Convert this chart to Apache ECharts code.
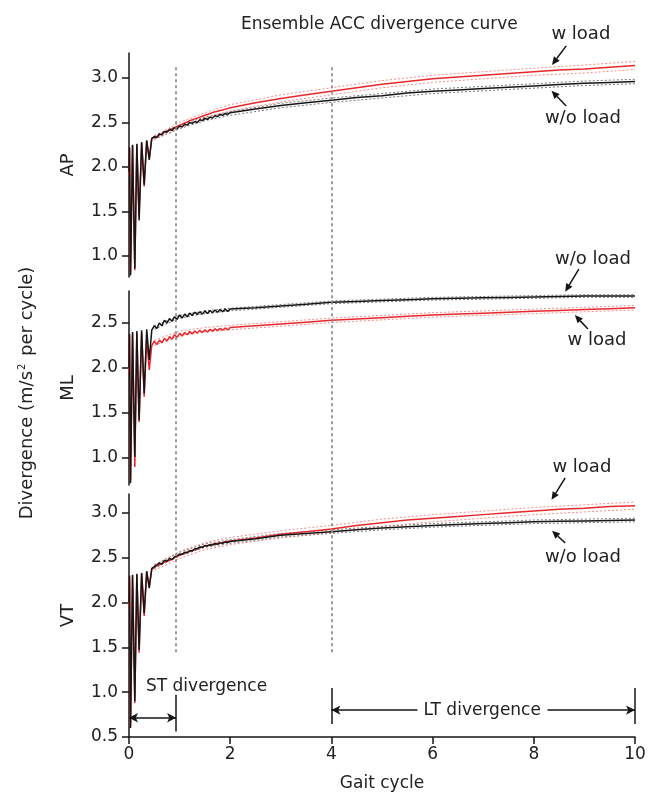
<!DOCTYPE html>
<html>
<head>
<meta charset="utf-8">
<script src="https://cdn.jsdelivr.net/npm/echarts@6/dist/echarts.min.js"></script>
<style>
  html, body { margin: 0; padding: 0; background: #fff; }
  #chart { width: 658px; height: 805px; }
</style>
</head>
<body>
<div id="chart"></div>
<script>
// ---------------- DATA ----------------
// gait-cycle sample positions (shared by all mean curves)
const cycleDip = [0, 0.01, 0.03, 0.07, 0.115, 0.155, 0.2, 0.25, 0.3, 0.35, 0.4, 0.45];
const cycleRipple = [0.5, 0.55, 0.6, 0.65, 0.7, 0.75, 0.8, 0.85, 0.9, 0.95, 1, 1.05, 1.1, 1.15, 1.2, 1.25, 1.3, 1.35, 1.4, 1.45, 1.5, 1.55, 1.6, 1.65, 1.7, 1.75, 1.8, 1.85, 1.9, 1.95, 2];
const cycleLate = [2.5, 3, 3.5, 4, 4.5, 5, 5.5, 6, 6.5, 7, 7.5, 8, 8.5, 9, 9.5, 10];

// AP
const apWithout = [1.95, 2.22, 0.78, 2.25, 0.86, 2.26, 1.40, 2.28, 1.80, 2.30, 2.08, 2.32,
  2.34, 2.33, 2.37, 2.36, 2.40, 2.39, 2.42, 2.41, 2.44, 2.43, 2.46, 2.45, 2.48, 2.47, 2.50, 2.49, 2.51, 2.50, 2.53, 2.52, 2.545, 2.535, 2.56, 2.55, 2.575, 2.565, 2.59, 2.58, 2.60, 2.59, 2.61,
  2.65, 2.69, 2.72, 2.75, 2.78, 2.80, 2.83, 2.85, 2.865, 2.88, 2.895, 2.91, 2.925, 2.94, 2.95, 2.96];
const apWith = [1.90, 2.20, 0.80, 2.24, 0.84, 2.25, 1.45, 2.27, 1.78, 2.29, 2.10, 2.32,
  2.33, 2.34, 2.36, 2.37, 2.39, 2.40, 2.42, 2.43, 2.445, 2.455, 2.47, 2.48, 2.495, 2.505, 2.52, 2.53, 2.54, 2.55, 2.56, 2.57, 2.58, 2.59, 2.60, 2.61, 2.62, 2.625, 2.635, 2.64, 2.65, 2.655, 2.665,
  2.72, 2.77, 2.81, 2.85, 2.89, 2.93, 2.96, 2.99, 3.01, 3.03, 3.05, 3.07, 3.09, 3.10, 3.12, 3.14];
// ML
const mlWithout = [2.00, 2.38, 0.72, 2.40, 1.01, 2.41, 1.42, 2.42, 1.72, 2.43, 2.09, 2.42,
  2.47, 2.44, 2.50, 2.47, 2.53, 2.50, 2.55, 2.52, 2.57, 2.54, 2.59, 2.555, 2.60, 2.57, 2.61, 2.585, 2.62, 2.595, 2.625, 2.60, 2.635, 2.605, 2.64, 2.615, 2.645, 2.62, 2.65, 2.625, 2.655, 2.63, 2.655,
  2.67, 2.69, 2.71, 2.73, 2.74, 2.75, 2.76, 2.77, 2.775, 2.78, 2.785, 2.79, 2.795, 2.80, 2.80, 2.80];
const mlWith = [1.95, 2.36, 0.75, 2.38, 0.90, 2.39, 1.40, 2.40, 1.68, 2.32, 1.98, 2.25,
  2.30, 2.26, 2.31, 2.28, 2.33, 2.30, 2.35, 2.32, 2.37, 2.34, 2.385, 2.355, 2.395, 2.37, 2.405, 2.38, 2.41, 2.39, 2.42, 2.395, 2.425, 2.40, 2.43, 2.41, 2.435, 2.415, 2.44, 2.42, 2.445, 2.425, 2.45,
  2.47, 2.49, 2.51, 2.53, 2.545, 2.56, 2.575, 2.59, 2.60, 2.61, 2.62, 2.63, 2.64, 2.65, 2.66, 2.67];
// VT
const vtWithout = [2.00, 2.30, 0.60, 2.31, 0.90, 2.32, 1.47, 2.33, 1.88, 2.35, 2.16, 2.38,
  2.40, 2.42, 2.44, 2.43, 2.47, 2.46, 2.49, 2.48, 2.51, 2.52, 2.54, 2.535, 2.56, 2.555, 2.58, 2.575, 2.60, 2.60, 2.62, 2.615, 2.635, 2.63, 2.645, 2.64, 2.655, 2.65, 2.665, 2.66, 2.675, 2.67, 2.68,
  2.71, 2.75, 2.77, 2.79, 2.81, 2.83, 2.845, 2.86, 2.87, 2.88, 2.89, 2.90, 2.905, 2.91, 2.915, 2.92];
const vtWith = [1.95, 2.28, 0.62, 2.30, 0.88, 2.31, 1.44, 2.32, 1.85, 2.34, 2.18, 2.37,
  2.39, 2.41, 2.42, 2.43, 2.45, 2.46, 2.47, 2.48, 2.50, 2.51, 2.53, 2.54, 2.55, 2.56, 2.57, 2.58, 2.59, 2.60, 2.61, 2.62, 2.63, 2.635, 2.64, 2.65, 2.655, 2.66, 2.665, 2.67, 2.675, 2.68, 2.685,
  2.72, 2.76, 2.79, 2.82, 2.86, 2.89, 2.92, 2.94, 2.96, 2.98, 3.00, 3.02, 3.04, 3.05, 3.07, 3.08];

// confidence bounds (dashed)
const bandCycles = [0.5, 1, 1.5, 2, 3, 4, 5, 6, 7, 8, 9, 10];
const apWithoutHi = [2.35, 2.47, 2.56, 2.62, 2.715, 2.775, 2.825, 2.875, 2.905, 2.935, 2.965, 2.985];
const apWithoutLo = [2.31, 2.43, 2.52, 2.58, 2.665, 2.725, 2.775, 2.825, 2.855, 2.885, 2.915, 2.935];
const apWithHi = [2.35, 2.50, 2.61, 2.70, 2.81, 2.89, 2.97, 3.03, 3.07, 3.11, 3.145, 3.185];
const apWithLo = [2.31, 2.44, 2.55, 2.63, 2.73, 2.81, 2.89, 2.95, 2.99, 3.03, 3.055, 3.095];
const mlWithoutHi = [2.47, 2.585, 2.635, 2.665, 2.705, 2.745, 2.765, 2.785, 2.795, 2.805, 2.815, 2.815];
const mlWithoutLo = [2.43, 2.555, 2.605, 2.635, 2.675, 2.715, 2.735, 2.755, 2.765, 2.775, 2.785, 2.785];
const mlWithHi = [2.31, 2.41, 2.45, 2.475, 2.515, 2.555, 2.585, 2.615, 2.635, 2.655, 2.675, 2.695];
const mlWithLo = [2.25, 2.36, 2.40, 2.425, 2.465, 2.505, 2.535, 2.565, 2.585, 2.605, 2.625, 2.645];
const vtWithoutHi = [2.42, 2.56, 2.655, 2.70, 2.77, 2.81, 2.85, 2.88, 2.90, 2.92, 2.93, 2.94];
const vtWithoutLo = [2.38, 2.52, 2.615, 2.66, 2.73, 2.77, 2.81, 2.84, 2.86, 2.88, 2.89, 2.90];
const vtWithHi = [2.42, 2.57, 2.67, 2.725, 2.80, 2.86, 2.93, 2.98, 3.02, 3.06, 3.09, 3.12];
const vtWithLo = [2.36, 2.49, 2.59, 2.645, 2.72, 2.78, 2.85, 2.90, 2.94, 2.98, 3.01, 3.04];

// axes ticks
const xTicks = [0, 2, 4, 6, 8, 10];
const apTicks = [1.0, 1.5, 2.0, 2.5, 3.0];
const mlTicks = [1.0, 1.5, 2.0, 2.5];
const vtTicks = [0.5, 1.0, 1.5, 2.0, 2.5, 3.0];
const panelNames = ['AP', 'ML', 'VT'];

// phase boundaries (gait cycles)
const stRange = [0, 0.93];
const ltRange = [4, 10];
const dividers = [0.93, 4];

// ---------------- LAYOUT / STYLE ----------------
const FONT = '"DejaVu Sans", sans-serif';
const RED = '#e8272c', BLACK = '#161616';
const panels = [
  { top: 53, height: 224, min: 0.764, max: 3.28, ticks: apTicks },
  { top: 291, height: 194, min: 0.70, max: 2.856, ticks: mlTicks },
  { top: 494, height: 243, min: 0.50, max: 3.21, ticks: vtTicks }
];
// annotation anchors in data units of each panel
const notes = [
  { panel: 0, text: 'w load',   tip: [8.36, 3.146], tail: [8.64, 3.36],  label: [8.93, 3.494] },
  { panel: 0, text: 'w/o load', tip: [8.35, 2.857], tail: [8.64, 2.685], label: [8.97, 2.55] },
  { panel: 1, text: 'w/o load', tip: [8.62, 2.848], tail: [8.89, 3.10],  label: [9.17, 3.21] },
  { panel: 1, text: 'w load',   tip: [8.81, 2.589], tail: [9.07, 2.433], label: [9.25, 2.31] },
  { panel: 2, text: 'w load',   tip: [8.35, 3.145], tail: [8.62, 3.39],  label: [8.95, 3.51] },
  { panel: 2, text: 'w/o load', tip: [8.36, 2.80],  tail: [8.62, 2.665], label: [8.97, 2.50] }
];
const stArrowY = 0.715, stBar = [0.56, 0.97], stLabel = [0.336, 1.06];
const ltArrowY = 0.80, ltBar = [0.645, 1.047], ltLabel = [6.98, 0.80], ltGap = [5.7, 8.27];
const dividerSpan = [0.124, 0.979];

function pairs(xs, ys) { return xs.map((x, i) => [x, ys[i]]); }
const cycles = cycleDip.concat(cycleRipple, cycleLate);

const meanData = [[apWithout, apWith], [mlWithout, mlWith], [vtWithout, vtWith]];
const bandData = [
  [apWithoutHi, apWithoutLo, apWithHi, apWithLo],
  [mlWithoutHi, mlWithoutLo, mlWithHi, mlWithLo],
  [vtWithoutHi, vtWithoutLo, vtWithHi, vtWithLo]
];

const grids = panels.map(p => ({ left: 129, right: 23, top: p.top, height: p.height, containLabel: false }));
grids.push({ left: 129, right: 23, top: 53, bottom: 68, containLabel: false });

const xAxes = panels.map((p, i) => ({
  type: 'value', gridIndex: i, min: 0, max: 10, interval: 2,
  show: i === 2,
  name: i === 2 ? 'Gait cycle' : '',
  nameLocation: 'middle', nameGap: 38,
  nameTextStyle: { fontFamily: FONT, fontSize: 17, color: '#222' },
  axisLine: { show: true, lineStyle: { color: BLACK, width: 1.5 } },
  axisTick: { show: true, length: 7, lineStyle: { color: BLACK, width: 1.5 } },
  axisLabel: { show: true, margin: 9, fontFamily: FONT, fontSize: 17, color: '#222',
    customValues: xTicks, formatter: v => String(v) },
  splitLine: { show: false }
}));
xAxes.push({ type: 'value', gridIndex: 3, min: 0, max: 10, show: false });

const yAxes = panels.map((p, i) => ({
  type: 'value', gridIndex: i, min: p.min, max: p.max,
  name: panelNames[i], nameLocation: 'middle', nameGap: 52, nameRotate: 90,
  nameTextStyle: { fontFamily: FONT, fontSize: 18, color: '#222' },
  axisLine: { show: true, onZero: false, lineStyle: { color: BLACK, width: 1.5 } },
  axisTick: { show: true, length: 7, customValues: p.ticks, lineStyle: { color: BLACK, width: 1.5 } },
  axisLabel: { show: true, margin: 11, fontFamily: FONT, fontSize: 17, color: '#222',
    customValues: p.ticks, formatter: v => v.toFixed(1) },
  splitLine: { show: false }
}));
yAxes.push({ type: 'value', gridIndex: 3, min: 0, max: 1, show: false });

const series = [];
panels.forEach((p, i) => {
  const bandStyles = [
    { color: '#555', width: 0.8 }, { color: '#555', width: 0.8 },
    { color: '#f07070', width: 0.8 }, { color: '#f07070', width: 0.8 }
  ];
  bandData[i].forEach((b, k) => {
    series.push({
      type: 'line', xAxisIndex: i, yAxisIndex: i, data: pairs(bandCycles, b),
      showSymbol: false, symbol: 'none', silent: true, z: 1,
      lineStyle: { color: bandStyles[k].color, width: bandStyles[k].width, type: [2, 2] }
    });
  });
  series.push({
    type: 'line', xAxisIndex: i, yAxisIndex: i, data: pairs(cycles, meanData[i][1]),
    showSymbol: false, symbol: 'none', z: 2,
    lineStyle: { color: RED, width: 1.5 }
  });
  series.push({
    type: 'line', xAxisIndex: i, yAxisIndex: i, data: pairs(cycles, meanData[i][0]),
    showSymbol: false, symbol: 'none', z: 3,
    lineStyle: { color: BLACK, width: 1.5 }
  });
  if (i === 2) {
    const mlData = [];
    mlData.push([{ coord: [dividers[0], stBar[0]], symbol: 'none' }, { coord: [dividers[0], stBar[1]], symbol: 'none' }]);
    mlData.push([{ coord: [stRange[0], stArrowY], symbol: 'arrow' }, { coord: [stRange[1], stArrowY], symbol: 'arrow' }]);
    mlData.push([{ coord: [ltRange[0], ltBar[0]], symbol: 'none' }, { coord: [ltRange[0], ltBar[1]], symbol: 'none' }]);
    mlData.push([{ coord: [ltRange[1], ltBar[0]], symbol: 'none' }, { coord: [ltRange[1], ltBar[1]], symbol: 'none' }]);
    mlData.push([{ coord: [ltRange[0], ltArrowY], symbol: 'arrow' }, { coord: [ltGap[0], ltArrowY], symbol: 'none' }]);
    mlData.push([{ coord: [ltGap[1], ltArrowY], symbol: 'none' }, { coord: [ltRange[1], ltArrowY], symbol: 'arrow' }]);
    series.push({
      type: 'line', xAxisIndex: i, yAxisIndex: i, data: [], z: 5, silent: true, clip: false,
      markLine: {
        silent: true, animation: false, symbolSize: [7, 9],
        label: { show: false },
        lineStyle: { color: BLACK, width: 1.5, type: 'solid' },
        emphasis: { disabled: true },
        data: mlData
      }
    });
  }
});
// dotted dividers across all panels
series.push({
  type: 'line', xAxisIndex: 3, yAxisIndex: 3, data: [], z: 0, silent: true, clip: false,
  markLine: {
    silent: true, animation: false, symbol: 'none',
    label: { show: false },
    lineStyle: { color: '#8a8a8a', width: 1.7, type: [3, 3] },
    data: dividers.map(x => [{ coord: [x, dividerSpan[0]] }, { coord: [x, dividerSpan[1]] }])
  }
});

const chart = echarts.init(document.getElementById('chart'), null, { renderer: 'canvas' });
chart.setOption({
  animation: false,
  backgroundColor: '#fff',
  title: {
    text: 'Ensemble ACC divergence curve', left: 236, top: 11,
    textStyle: { fontFamily: FONT, fontSize: 17, fontWeight: 'normal', color: '#222' }
  },
  grid: grids, xAxis: xAxes, yAxis: yAxes, series: series
});

// annotation texts and arrows, positioned through each panel's own scales
const gfx = [];
notes.forEach(n => {
  const pt = chart.convertToPixel({ gridIndex: n.panel }, n.label);
  gfx.push({ type: 'text', x: pt[0], y: pt[1], z: 10,
    style: { text: n.text, fontFamily: FONT, fontSize: 18, fill: '#222', align: 'center', verticalAlign: 'middle' } });
  const T = chart.convertToPixel({ gridIndex: n.panel }, n.tip);
  const S = chart.convertToPixel({ gridIndex: n.panel }, n.tail);
  const dx = T[0] - S[0], dy = T[1] - S[1];
  const len = Math.sqrt(dx * dx + dy * dy);
  const ux = dx / len, uy = dy / len;
  const headL = 8, headW = 3.6;
  const B = [T[0] - ux * headL, T[1] - uy * headL];
  gfx.push({ type: 'line', z: 10, shape: { x1: S[0], y1: S[1], x2: B[0], y2: B[1] },
    style: { stroke: BLACK, lineWidth: 1.5 } });
  gfx.push({ type: 'polygon', z: 10,
    shape: { points: [T, [B[0] - uy * headW, B[1] + ux * headW], [B[0] + uy * headW, B[1] - ux * headW]] },
    style: { fill: BLACK } });
});
const stPt = chart.convertToPixel({ gridIndex: 2 }, stLabel);
gfx.push({ type: 'text', x: stPt[0], y: stPt[1], z: 10,
  style: { text: 'ST divergence', fontFamily: FONT, fontSize: 17, fill: '#222', align: 'left', verticalAlign: 'middle' } });
const ltPt = chart.convertToPixel({ gridIndex: 2 }, ltLabel);
gfx.push({ type: 'text', x: ltPt[0], y: ltPt[1], z: 10,
  style: { text: 'LT divergence', fontFamily: FONT, fontSize: 17, fill: '#222', align: 'center', verticalAlign: 'middle' } });
gfx.push({ type: 'text', x: 27, y: 393, rotation: Math.PI / 2, z: 10,
  style: { text: 'Divergence (m/s{sup|2} per cycle)', fontFamily: FONT, fontSize: 18, fill: '#222',
    align: 'center', verticalAlign: 'middle',
    rich: { sup: { fontFamily: FONT, fontSize: 10, fill: '#222', padding: [0, 2, 10, 1] } } } });
chart.setOption({ graphic: gfx });
</script>
</body>
</html>
